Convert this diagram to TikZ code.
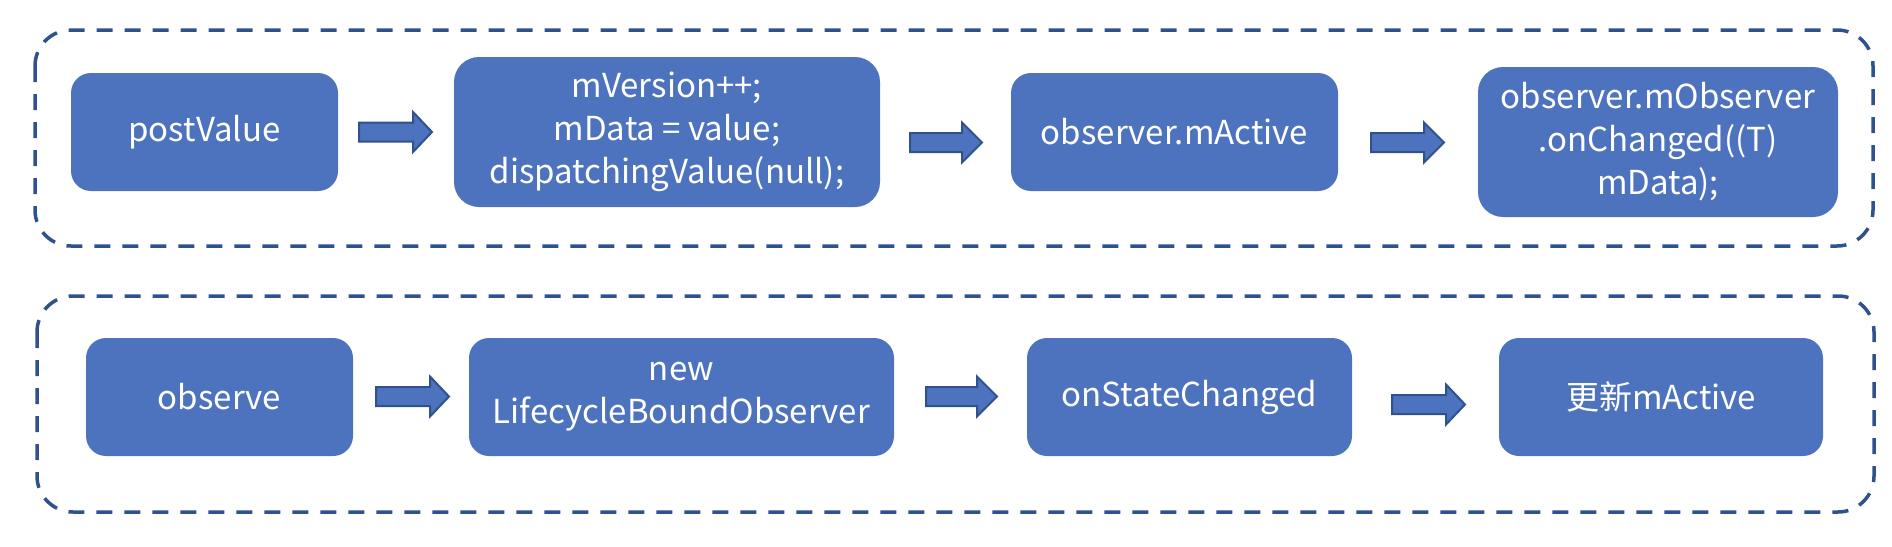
\documentclass[tikz,border=0pt]{standalone}
\usepackage{fontspec}
\setmainfont{Noto Sans CJK SC}
\definecolor{boxblue}{HTML}{4E73BE}
\definecolor{darkblue}{HTML}{2F528F}
\tikzset{
  x=1pt, y=-1pt,
  box/.style={fill=boxblue, draw=none, rounded corners=20pt, text=white, align=center,
    font=\fontsize{33}{43}\selectfont, inner sep=0pt},
  group/.style={draw=darkblue, line width=3.5pt, dash pattern=on 16pt off 12pt, rounded corners=36pt},
  blockarrow/.style={fill=boxblue, draw=darkblue, line width=2pt, line join=miter}
}
\newcommand{\blockarr}[4]{%
  \draw[blockarrow] (#1,#4-9.5) -- (#2,#4-9.5) -- (#2,#4-20) -- (#3,#4) -- (#2,#4+20) -- (#2,#4+9.5) -- (#1,#4+9.5) -- cycle;}
\begin{document}
\begin{tikzpicture}
\useasboundingbox (0,0) rectangle (1892,546);
% groups
\draw[group] (35,30) rectangle (1873,246);
\draw[group] (37,296) rectangle (1874,512);
% top row
\node[box, minimum width=267pt, minimum height=118pt] (a1) at (204.5,132) {postValue};
\node[box, minimum width=426pt, minimum height=150pt, rounded corners=25pt] (a2) at (667,132) {mVersion++;\\mData = value;\\dispatchingValue(null);};
\node[box, minimum width=327pt, minimum height=118pt] (a3) at (1174.5,132) {observer.mActive};
\node[box, minimum width=360pt, minimum height=150pt, rounded corners=25pt] (a4) at (1658,142) {observer.mObserver\\.onChanged((T)\\mData);};
% bottom row
\node[box, minimum width=267pt, minimum height=118pt] (b1) at (219.5,397) {observe};
\node[box, minimum width=425pt, minimum height=118pt] (b2) at (681.5,397) {new\\LifecycleBoundObserver};
\node[box, minimum width=325pt, minimum height=118pt] (b3) at (1189.5,397) {onStateChanged};
\node[box, minimum width=324pt, minimum height=118pt] (b4) at (1661,397) {更新mActive};
% arrows
\blockarr{359}{413}{432}{132}
\blockarr{910}{962}{982}{142.5}
\blockarr{1371}{1424}{1444}{142.5}
\blockarr{376}{430}{449}{396.5}
\blockarr{926}{977}{997}{396.5}
\blockarr{1392}{1446}{1465}{404.5}
\end{tikzpicture}
\end{document}
